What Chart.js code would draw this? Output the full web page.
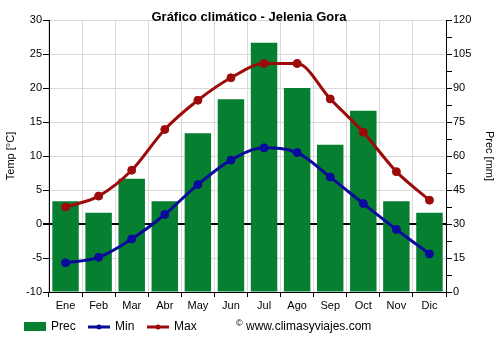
<!DOCTYPE html>
<html>
<head>
<meta charset="utf-8">
<script src="https://cdn.jsdelivr.net/npm/chart.js@4/dist/chart.umd.min.js"></script>
<style>
  html, body { margin: 0; padding: 0; background: #fff; }
  #wrap { width: 500px; height: 350px; }
</style>
</head>
<body>
<div id="wrap"><canvas id="grafico"></canvas></div>
<script>
// datos climáticos - Jelenia Gora
var meses = ['Ene', 'Feb', 'Mar', 'Abr', 'May', 'Jun', 'Jul', 'Ago', 'Sep', 'Oct', 'Nov', 'Dic'];
var prec = [40, 35, 50, 40, 70, 85, 110, 90, 65, 80, 40, 35];
var tMin = [-5.7, -4.9, -2.2, 1.4, 5.8, 9.4, 11.2, 10.5, 6.9, 3.0, -0.8, -4.4];
var tMax = [2.5, 4.1, 7.9, 13.9, 18.2, 21.5, 23.6, 23.6, 18.4, 13.5, 7.7, 3.5];

var titulo = 'Gráfico climático - Jelenia Gora';
var fuente = '"Liberation Sans", Arial, sans-serif';

var colorPrec = '#077f31';
var colorMin = '#0a0a9c';
var colorMax = '#9c0a0a';
var colorGrid = '#d9d9d9';

// titulo y leyenda dibujados a mano
var extras = {
    id: 'extras',
    afterDraw: function (chart) {
        var ctx = chart.ctx;
        ctx.save();
        ctx.fillStyle = '#000';
        ctx.font = 'bold 13px ' + fuente;
        ctx.textAlign = 'center';
        ctx.textBaseline = 'middle';
        ctx.fillText(titulo, 249, 17);

        var y = 327;
        ctx.font = '12px ' + fuente;
        ctx.textAlign = 'left';

        ctx.fillStyle = colorPrec;
        ctx.fillRect(24, 322, 22, 9);
        ctx.fillStyle = '#000';
        ctx.fillText('Prec', 51, y);

        [[88, colorMin, 'Min'], [147, colorMax, 'Max']].forEach(function (l) {
            ctx.strokeStyle = l[1];
            ctx.lineWidth = 3;
            ctx.beginPath();
            ctx.moveTo(l[0], y);
            ctx.lineTo(l[0] + 22, y);
            ctx.stroke();
            ctx.fillStyle = l[1];
            ctx.beginPath();
            ctx.arc(l[0] + 11, y, 2.5, 0, Math.PI * 2);
            ctx.fill();
            ctx.fillStyle = '#000';
            ctx.fillText(l[2], l[0] + 27, y);
        });

        ctx.font = '9px ' + fuente;
        ctx.fillText('©', 236, y - 3);
        ctx.font = '12px ' + fuente;
        ctx.fillText('www.climasyviajes.com', 246, y);
        ctx.restore();
    }
};

new Chart(document.getElementById('grafico'), {
    type: 'bar',
    data: {
        labels: meses,
        datasets: [
            {
                type: 'line', label: 'Max', data: tMax, yAxisID: 'y',
                borderColor: colorMax, backgroundColor: colorMax,
                borderWidth: 3, pointRadius: 4, pointHoverRadius: 4, pointBorderWidth: 1,
                tension: 0.3, cubicInterpolationMode: 'monotone', order: 1
            },
            {
                type: 'line', label: 'Min', data: tMin, yAxisID: 'y',
                borderColor: colorMin, backgroundColor: colorMin,
                borderWidth: 3, pointRadius: 4, pointHoverRadius: 4, pointBorderWidth: 1,
                tension: 0.3, cubicInterpolationMode: 'monotone', order: 1
            },
            {
                type: 'bar', label: 'Prec', data: prec, yAxisID: 'y1',
                backgroundColor: colorPrec, categoryPercentage: 1, barPercentage: 0.8,
                order: 2
            }
        ]
    },
    options: {
        responsive: true,
        maintainAspectRatio: false,
        animation: false,
        layout: { padding: { top: 20, left: 0, right: 0, bottom: 0 } },
        plugins: {
            legend: { display: false },
            title: { display: false },
            tooltip: { enabled: false }
        },
        scales: {
            x: {
                offset: true,
                grid: { offset: true, color: colorGrid, tickLength: 5, tickColor: '#000' },
                border: { color: '#000' },
                ticks: { color: '#000', font: { family: fuente, size: 11 }, padding: 2, maxRotation: 0 },
                afterFit: function (s) { s.height = 58; }
            },
            y: {
                position: 'left',
                min: -10, max: 30,
                ticks: { stepSize: 5, color: '#000', font: { family: fuente, size: 11 }, padding: 1 },
                grid: {
                    color: function (c) { return c.tick && c.tick.value === 0 ? '#000' : colorGrid; },
                    lineWidth: function (c) { return c.tick && c.tick.value === 0 ? 2 : 1; },
                    tickLength: 6, tickColor: '#000'
                },
                border: { color: '#000' },
                title: { display: true, text: 'Temp [°C]', color: '#000', font: { family: fuente, size: 11 } },
                afterFit: function (s) { s.width = 49; }
            },
            y1: {
                position: 'right',
                min: 0, max: 120,
                ticks: {
                    stepSize: 7.5, color: '#000', font: { family: fuente, size: 11 }, padding: 1,
                    callback: function (v) { return v % 15 === 0 ? v : ''; }
                },
                grid: { drawOnChartArea: false, tickLength: 6, tickColor: '#000' },
                border: { color: '#000' },
                title: { display: true, text: 'Prec [mm]', color: '#000', font: { family: fuente, size: 11 } },
                afterFit: function (s) { s.width = 54; }
            }
        }
    },
    plugins: [extras]
});
</script>
</body>
</html>
